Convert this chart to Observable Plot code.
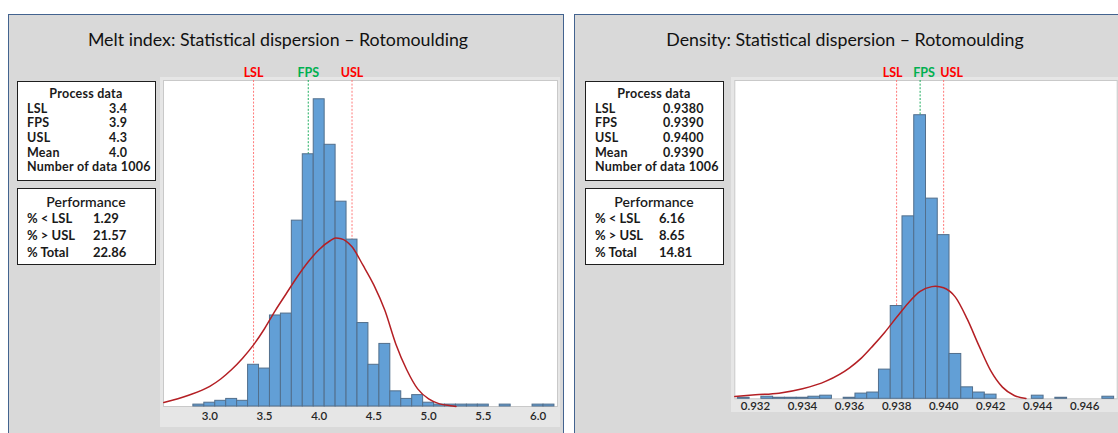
<!DOCTYPE html>
<html>
<head>
<meta charset="utf-8">
<script src="https://cdn.jsdelivr.net/npm/d3@7"></script>
<script src="https://cdn.jsdelivr.net/npm/@observablehq/plot@0.6"></script>
<style>
  html, body { margin: 0; padding: 0; background: #fff; }
  body { width: 1118px; height: 433px; overflow: hidden; position: relative;
         font-family: Lato, "Open Sans", sans-serif; color: #1a1a1a; }
  .panel { position: absolute; top: 14px; height: 440px; background: #d9d9d9;
           border: 1.5px solid #43638f; box-sizing: border-box; }
  .title { position: absolute; top: 28px; font-size: 17.8px; white-space: nowrap;
           transform: translateX(-50%); color: #111; }
  .box { position: absolute; background: #fff; border: 1.5px solid #1e1e1e; box-sizing: border-box; }
  .t { position: absolute; white-space: nowrap; font-weight: 700; line-height: 1; }
  .chartbg { position: absolute; background: #e6e6e6; }
  .plot { position: absolute; }
</style>
</head>
<body>
<script>
// ---------- Melt index (g/10 min) ----------
const meltTitle = "Melt index: Statistical dispersion – Rotomoulding";
const meltBinCenters = [2.9, 3.0, 3.1, 3.2, 3.3, 3.4, 3.5, 3.6, 3.7, 3.8, 3.9, 4.0, 4.1, 4.2, 4.3,
                        4.4, 4.5, 4.6, 4.7, 4.8, 4.9, 5.0, 5.1, 5.2, 5.3, 5.4, 5.5, 5.7, 6.0, 6.1];
const meltCounts     = [1, 2, 3, 4, 3, 22, 20, 48, 49, 98, 133, 162, 138, 108, 88,
                        44, 22, 33, 8, 4, 6, 2, 1, 1, 1, 1, 1, 1, 1, 1];
const meltBinWidth = 0.1;
const meltFitX = [2.58, 2.8, 3.0, 3.1, 3.2, 3.3, 3.4, 3.5, 3.6, 3.7, 3.8, 3.9, 4.0, 4.1, 4.15, 4.2, 4.3,
                  4.4, 4.5, 4.6, 4.7, 4.8, 4.9, 5.0, 5.1, 5.2, 5.25];
const meltFitY = [2.1, 5.8, 10.6, 14.5, 19.5, 25.5, 32.5, 41, 50.7, 59.6, 68.4, 76.3, 82.8, 87.4, 88.8, 88.5, 84.2,
                  74.5, 64, 50.7, 33, 19.4, 9.3, 4, 1.4, 0.4, 0];
const meltTicks = [3.0, 3.5, 4.0, 4.5, 5.0, 5.5, 6.0];
const meltSpecNames  = ["LSL", "FPS", "USL"];
const meltSpecValues = [3.4, 3.9, 4.3];
const meltProcessValues = ["3.4", "3.9", "4.3", "4.0", "1006"];
const meltPerfValues = ["1.29", "21.57", "22.86"];

// ---------- Density (g/cm³) ----------
const densTitle = "Density: Statistical dispersion – Rotomoulding";
const densBinCenters = [0.9315, 0.9325, 0.933, 0.9335, 0.934, 0.9345, 0.935, 0.936, 0.9365, 0.937,
                        0.9375, 0.938, 0.9385, 0.939, 0.9395, 0.940, 0.9405, 0.941, 0.9415, 0.942,
                        0.944, 0.945, 0.947];
const densCounts     = [1, 2, 1, 1, 1, 2, 3, 1, 5, 6,
                        28, 89, 175, 272, 192, 157, 43, 11, 6, 4,
                        3, 1, 2];
const densBinWidth = 0.0005;
const densFitX = [0.93112, 0.932, 0.933, 0.934, 0.935, 0.936, 0.9365, 0.937, 0.9375, 0.938, 0.9385,
                  0.939, 0.9395, 0.93965, 0.940, 0.9405, 0.941, 0.9415, 0.942, 0.9425, 0.943, 0.9435];
const densFitY = [2.2, 3.8, 5.4, 9.6, 16.9, 29.7, 39, 51, 63.9, 78.2, 92,
                  103, 107.6, 108, 106.5, 97.5, 76.6, 51, 27, 11.2, 3.2, 0.3];
const densTicks = [0.932, 0.934, 0.936, 0.938, 0.940, 0.942, 0.944, 0.946];
const densSpecNames  = ["LSL", "FPS", "USL"];
const densSpecValues = [0.938, 0.939, 0.940];
const densProcessValues = ["0.9380", "0.9390", "0.9400", "0.9390", "1006"];
const densPerfValues = ["6.16", "8.65", "14.81"];

// ---------- Shared labels ----------
const processLabels = ["LSL", "FPS", "USL", "Mean", "Number of data"];
const perfLabels = ["% < LSL", "% > USL", "% Total"];
const specColors = {LSL: "#ff0000", FPS: "#00b050", USL: "#ff0000"};
const specLineColors = {LSL: "#ff7a7a", FPS: "#1fae5f", USL: "#ff7a7a"};

function add(parent, cls, css, text) {
  const d = document.createElement("div");
  d.className = cls;
  Object.assign(d.style, css);
  if (text != null) d.textContent = text;
  parent.appendChild(d);
  return d;
}

function infoBoxes(x, valueCol, perfCol, processValues, perfValues) {
  const w = 139;
  const rowFont = {fontSize: "12.5px", letterSpacing: "0.25px"};
  const b1 = add(document.body, "box", {left: x + "px", top: "81px", width: w + "px", height: "100px"});
  add(b1, "t", {left: "0", width: (w - 3) + "px", textAlign: "center", top: "6px", ...rowFont}, "Process data");
  const rowY = [20.5, 35, 50, 64.5, 79];
  processLabels.forEach((lab, i) => {
    const last = i === processLabels.length - 1;
    add(b1, "t", {left: "9px", top: rowY[i] + "px", ...rowFont},
        last ? lab + " " + processValues[i] : lab);
    if (!last) add(b1, "t", {left: valueCol + "px", top: rowY[i] + "px", ...rowFont}, processValues[i]);
  });
  const b2 = add(document.body, "box", {left: x + "px", top: "188px", width: w + "px", height: "77px"});
  add(b2, "t", {left: "0", width: (w - 3) + "px", textAlign: "center", top: "6px", fontSize: "14px", fontWeight: "600"}, "Performance");
  const pY = [22.5, 40, 56.5];
  perfLabels.forEach((lab, i) => {
    add(b2, "t", {left: "9px", top: pY[i] + "px", fontSize: "13px"}, lab);
    add(b2, "t", {left: perfCol + "px", top: pY[i] + "px", fontSize: "13px"}, perfValues[i]);
  });
}

function histogram(cfg) {
  const bins = cfg.centers.map((c, i) => ({x1: c - cfg.binWidth / 2, x2: c + cfg.binWidth / 2, y: cfg.counts[i]}));
  const fit = cfg.fitX.map((x, i) => ({x, y: cfg.fitY[i]}));
  const specs = cfg.specNames.map((n, i) => ({name: n, v: cfg.specValues[i]}));
  const plot = Plot.plot({
    width: cfg.width,
    height: cfg.height,
    marginLeft: cfg.ml, marginRight: cfg.mr, marginTop: cfg.mt, marginBottom: cfg.mb,
    style: {background: "transparent", fontFamily: "Lato, 'Open Sans', sans-serif", overflow: "visible"},
    x: {domain: cfg.xDomain},
    y: {domain: cfg.yDomain, axis: null},
    marks: [
      Plot.frame({fill: "white", stroke: "#c9c9c9"}),
      ...specs.map(s => Plot.ruleX([s], {x: "v", stroke: specLineColors[s.name], strokeWidth: 1, strokeDasharray: "2,1.6"})),
      Plot.rectY(bins, {x1: "x1", x2: "x2", y: "y", fill: "#629fd6", stroke: "#526f8c", strokeWidth: 1, inset: 0}),
      Plot.line(fit, {x: "x", y: "y", stroke: "#b41f24", strokeWidth: 1.5, curve: "monotone-x"}),
      ...specs.map((s, i) => Plot.text([s], {x: "v", text: "name", frameAnchor: "top", lineAnchor: "bottom",
        dy: -4, dx: cfg.labelDx[i], fill: specColors[s.name], fontSize: 12.5, fontWeight: 700})),
      Plot.axisX({ticks: cfg.ticks, tickFormat: d3.format(cfg.fmt), tickSize: 0, tickPadding: cfg.tickPad,
        fontSize: 11.5, fontWeight: 600, fill: "#262626", label: null})
    ]
  });
  plot.classList.add("plot");
  plot.style.left = cfg.left + "px";
  plot.style.top = cfg.top + "px";
  plot.style.position = "absolute";
  document.body.appendChild(plot);
}

// Panels
add(document.body, "panel", {left: "8px", width: "556px"});
add(document.body, "panel", {left: "574px", width: "560px"});
add(document.body, "title", {left: "278px"}, meltTitle);
add(document.body, "title", {left: "845px"}, densTitle);

// Statistics boxes
infoBoxes(17, 91, 75, meltProcessValues, meltPerfValues);
infoBoxes(585, 77, 73, densProcessValues, densPerfValues);

// Chart backgrounds
add(document.body, "chartbg", {left: "160px", top: "77px", width: "400px", height: "350px"});
add(document.body, "chartbg", {left: "731px", top: "77px", width: "387px", height: "335px"});

histogram({
  left: 160, top: 60, width: 400, height: 373, ml: 3, mr: 3, mt: 20, mb: 27,
  centers: meltBinCenters, counts: meltCounts, binWidth: meltBinWidth,
  fitX: meltFitX, fitY: meltFitY, xDomain: [2.577, 6.178], yDomain: [0, 171.9],
  ticks: meltTicks, fmt: ".1f", tickPad: 5,
  specNames: meltSpecNames, specValues: meltSpecValues, labelDx: [0, 0, 0]
});

histogram({
  left: 731, top: 60, width: 387, height: 373, ml: 3.3, mr: 1.3, mt: 20, mb: 34.7,
  centers: densBinCenters, counts: densCounts, binWidth: densBinWidth,
  fitX: densFitX, fitY: densFitY, xDomain: [0.93112, 0.94738], yDomain: [0, 305.3],
  ticks: densTicks, fmt: ".3f", tickPad: 3,
  specNames: densSpecNames, specValues: densSpecValues, labelDx: [-4, 4, 8]
});
</script>
</body>
</html>
